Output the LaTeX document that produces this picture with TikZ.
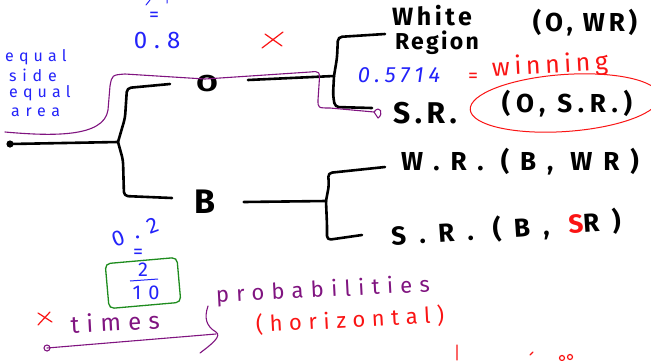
\documentclass[tikz,border=0pt]{standalone}
\usepackage{fontspec}
\setmainfont{Fira Sans}
\usetikzlibrary{calc,shapes.geometric}
\definecolor{penblue}{RGB}{35,35,250}
\definecolor{penred}{RGB}{250,20,20}
\definecolor{penpurple}{RGB}{128,20,128}
\definecolor{pengreen}{RGB}{30,140,30}
\newcommand\spaced[2]{{\addfontfeature{LetterSpace=#1}#2}}

\begin{document}
\begin{tikzpicture}[x=1pt,y=-1pt,
  ink/.style={line width=2.6pt, line cap=round, line join=round},
  purp/.style={penpurple, line width=1.1pt, line cap=round, line join=round},
  redline/.style={penred, line width=1.2pt, line cap=round},
  blk/.style={inner sep=0, font=\fontsize{26}{26}\selectfont\bfseries},
  blu/.style={inner sep=0, text=penblue, font=\fontsize{20}{20}\selectfont},
  rd/.style={inner sep=0, text=penred, font=\fontsize{22}{22}\selectfont},
  pu/.style={inner sep=0, text=penpurple, font=\fontsize{22}{22}\selectfont},
]
\useasboundingbox[fill=white] (0,0) rectangle (651,360);

% ---- outcome nodes ----
\node[blk, font=\fontsize{23}{23}\selectfont\bfseries] (O) at (207,84) {\scalebox{1.35}[1]{O}};
\node[blk, font=\fontsize{34}{34}\selectfont\bfseries] (B) at (205,202) {B};
\node[blk, font=\fontsize{25}{25}\selectfont\bfseries] (white) at (432,16) {\spaced{14}{White}};
\node[blk, font=\fontsize{23}{23}\selectfont\bfseries] (region) at (437,43) {\spaced{10}{Region}};
\node[blk] (owr) at (585,23) {\spaced{15}{(O, WR)}};
\node[blk, font=\fontsize{30}{30}\selectfont\bfseries] (sr1) at (425,113) {\spaced{15}{S.R.}};
\node[blk] (osr) at (567,104) {\spaced{22}{(O, S.R.)}};
\node[blk] (wr) at (520,162) {\spaced{42}{W.R. (B, WR)}};
\node[blk, rotate=4] (sr2) at (506,229) {\spaced{50}{S.R. (B, \textcolor{penred}{S}R)}};

% ---- tree connectors ----
\coordinate (root) at (10,144);
\coordinate (j1) at (118,142);
\coordinate (j2) at (334,76);
\coordinate (j3) at (326,201);
\fill (root) circle (3.6);
\draw[ink] (root) -- (j1);
\draw[ink, rounded corners=4] (j1) -- (125,118) -- (127,88) -- (170,84);
\draw[ink, rounded corners=4] (j1) -- (123,160) -- (124,196) -- (172,198);
\draw[ink] ($(O.east)+(30,-4)$) -- (j2);
\draw[ink, rounded corners=4] (j2) -- (337,58) -- (338,37) -- (385,34);
\draw[ink, rounded corners=4] (j2) -- (333,95) -- (335,107) -- (372,108);
\draw[ink] ($(B.east)+(28,0)$) -- (j3);
\draw[ink, rounded corners=4] (j3) -- (329,185) -- (328,173) -- (385,167);
\draw[ink, rounded corners=4] (j3) -- (327,225) -- (327,240) -- (362,235);

% ---- blue notes ----
\draw[penblue, line width=1pt, line cap=round] (150,0) -- (146,5) (167,0) -- (167,3);
\node[blu] (eqtop) at (154,17) {=};
\node[blu, font=\fontsize{24}{24}\selectfont] (p08) at (157,40) {\spaced{30}{0.8}};
\node[blu, font=\fontsize{16}{16}\selectfont, anchor=west] (l1) at (5,57) {\spaced{32}{equal}};
\node[blu, font=\fontsize{16}{16}\selectfont, anchor=west] (l2) at (9,75) {\spaced{36}{side}};
\node[blu, font=\fontsize{16}{16}\selectfont, anchor=west] (l3) at (9,93) {\spaced{32}{equal}};
\node[blu, font=\fontsize{16}{16}\selectfont, anchor=west] (l4) at (11,112) {\spaced{36}{area}};
\node[blu, font=\fontsize{22}{22}\selectfont\itshape] (p5714) at (399,75) {\spaced{22}{0.5714}};
\node[blu, font=\fontsize{22}{22}\selectfont, rotate=20] (p02) at (135,232) {\spaced{45}{0.2}};
\node[blu] (eqb) at (138,254) {=};
\node[blu] (two) at (143,270) {2};
\node[blu] (ten) at (146,293) {\spaced{35}{10}};
\draw[penblue, line width=1pt] (130,281) -- (158,279);
\node[draw=pengreen, line width=1.3pt, rounded corners=5, rotate=5,
      minimum width=72, minimum height=45] (box) at (143,283) {};

% ---- red notes ----
\draw[redline] (262,48) -- (283,32) (265,34) -- (282,46);
\node[rd, font=\fontsize{20}{20}\selectfont] (eqw) at (473,78) {=};
\node[rd, font=\fontsize{25}{25}\selectfont, rotate=3] (win) at (550,66) {\spaced{18}{winning}};
\node[draw=penred, line width=1pt, ellipse, rotate=4,
      minimum width=190, minimum height=57] (ring) at (565,103) {};
\draw[redline] (38,325) -- (50,312) (38,313) -- (52,322);
\node[rd, rotate=3] (horiz) at (350,320) {\spaced{30}{(horizontal)}};
\draw[redline] (457,345) -- (457,360) (530,355) -- (533,352) (562,358) circle (2.5) (570,357) circle (2.5);

% ---- purple notes ----
\node[pu, font=\fontsize{24}{24}\selectfont, rotate=3] (times) at (115,322) {\spaced{30}{times}};
\node[pu, rotate=3] (prob) at (323,291) {\spaced{33}{probabilities}};
\coordinate (dot2) at (47,348);
\coordinate (brace) at (216,334);
\draw[purp] (dot2) circle (3);
\draw[purp] (dot2) -- (brace);
\draw[purp] (208,306) .. controls (204,318) and (206,326) .. (216,332)
  .. controls (222,336) and (212,344) .. (200,353);
\coordinate (pstart) at (5,132);
\coordinate (pend) at (374,112);
\draw[purp] (pstart) .. controls (50,136) and (104,138) .. (108,110)
  -- (110,86) .. controls (112,75) .. (125,74) -- (205,79) -- (310,72)
  .. controls (320,71) .. (319,85) -- (318,100) .. controls (318,108) .. (330,108)
  -- (pend) .. controls (380,104) and (384,114) .. (378,118) -- (pend);
\end{tikzpicture}
\end{document}
